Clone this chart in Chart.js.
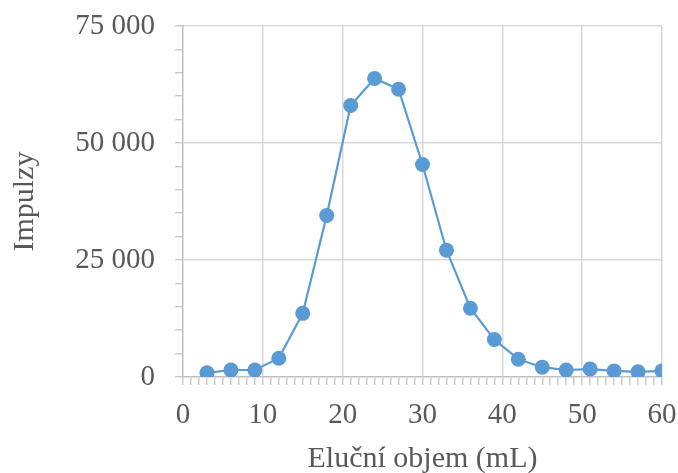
<!DOCTYPE html>
<html>
<head>
<meta charset="utf-8">
<script src="https://cdn.jsdelivr.net/npm/chart.js@4/dist/chart.umd.min.js"></script>
<style>
  html, body { margin: 0; padding: 0; background: #fff; }
  #wrap { width: 678px; height: 473px; }
</style>
</head>
<body>
<div id="wrap"><canvas id="myChart"></canvas></div>
<script>
// elution volume (mL) and counts
const volumes = [3, 6, 9, 12, 15, 18, 21, 24, 27, 30, 33, 36, 39, 42, 45, 48, 51, 54, 57, 60]
const impulses = [900, 1500, 1500, 4000, 13600, 34500, 58000, 63800, 61500, 45400, 27100, 14700, 8000, 3800, 2100, 1500, 1700, 1300, 1100, 1300]
const yLabels = ['0', '25 000', '50 000', '75 000']

const xTitle = 'Eluční objem (mL)'
const yTitle = 'Impulzy'

const ctx = document.getElementById('myChart')
const points = volumes.map((v, i) => ({ x: v, y: impulses[i] }))
const font = "'Liberation Serif', 'DejaVu Serif', serif"
const textColor = '#595959'

new Chart(ctx, {
    type: 'line',
    data: {
        datasets: [{
            data: points,
            borderColor: '#5B9BD5',
            backgroundColor: '#5B9BD5',
            borderWidth: 2.2,
            pointRadius: 7.5,
            pointHoverRadius: 7.5,
            pointBorderWidth: 0,
            tension: 0
        }]
    },
    options: {
        responsive: true,
        maintainAspectRatio: false,
        animation: false,
        layout: { padding: { top: 26, right: 16, left: 0, bottom: 0 } },
        plugins: { legend: { display: false }, tooltip: { enabled: false } },
        scales: {
            x: {
                type: 'linear',
                min: 0, max: 60,
                afterFit: s => { s.height = 96; s.paddingLeft = 0; s.paddingRight = 0 },
                border: { color: '#BFBFBF', width: 1.5 },
                grid: {
                    color: c => (c.tick && c.tick.value % 10 === 0 && c.tick.value > 0) ? '#D9D9D9' : 'rgba(0,0,0,0)',
                    lineWidth: 1.5,
                    drawTicks: true,
                    tickLength: 8,
                    tickColor: '#BFBFBF',
                    tickWidth: 1.2
                },
                ticks: {
                    stepSize: 1,
                    autoSkip: false,
                    maxRotation: 0,
                    padding: 13,
                    color: textColor,
                    font: { family: font, size: 29 },
                    callback: v => v % 10 === 0 ? String(v) : ''
                },
                title: {
                    display: true,
                    text: xTitle,
                    color: textColor,
                    font: { family: font, size: 30, lineHeight: 0.9 },
                    padding: { top: 0, bottom: 0 }
                }
            },
            y: {
                min: 0, max: 75000,
                afterFit: s => { s.width = 183; s.paddingTop = 0; s.paddingBottom = 0 },
                border: { color: '#BFBFBF', width: 1.5 },
                grid: {
                    color: c => (c.tick && c.tick.value % 25000 === 0 && c.tick.value > 0) ? '#D9D9D9' : 'rgba(0,0,0,0)',
                    lineWidth: 1.5,
                    drawTicks: true,
                    tickLength: 8,
                    tickColor: '#BFBFBF',
                    tickWidth: 1.2
                },
                ticks: {
                    stepSize: 5000,
                    autoSkip: false,
                    padding: 20,
                    color: textColor,
                    font: { family: font, size: 29 },
                    callback: v => v % 25000 === 0 ? yLabels[v / 25000] : ''
                },
                title: {
                    display: true,
                    text: yTitle,
                    color: textColor,
                    font: { family: font, size: 30 },
                    padding: { top: 7, bottom: 0 }
                }
            }
        }
    }
});
</script>
</body>
</html>
